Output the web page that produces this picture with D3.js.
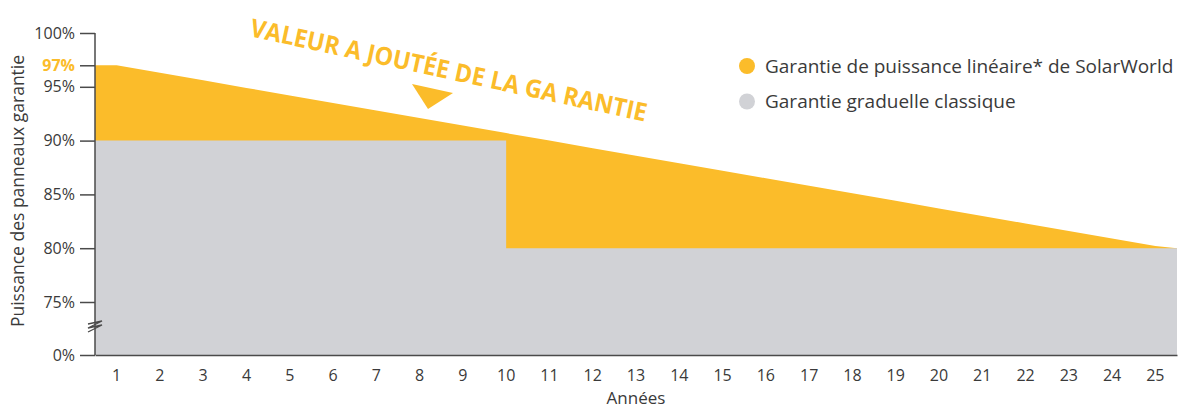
<!DOCTYPE html>
<html>
<head>
<meta charset="utf-8">
<script src="https://cdn.jsdelivr.net/npm/d3@7"></script>
<style>
  body { margin: 0; background: #fff; }
  text { font-family: "Open Sans", sans-serif; fill: #3a3a3a; }
</style>
</head>
<body>
<div id="chart-area"></div>
<script>
const WIDTH = 1179
const HEIGHT = 410
const ORANGE = "#FBBC2A"
const GREY = "#D1D2D6"
const AXIS = "#4a4a4a"

// data
const years = [1, 2, 3, 4, 5, 6, 7, 8, 9, 10, 11, 12, 13, 14, 15, 16, 17, 18, 19, 20, 21, 22, 23, 24, 25]
const linearValues = [97, 96.3, 95.6, 94.9, 94.2, 93.5, 92.8, 92.1, 91.4, 90.7, 90.0, 89.3, 88.6,
  87.9, 87.2, 86.5, 85.8, 85.1, 84.4, 83.7, 83.0, 82.3, 81.6, 80.9, 80.2]
const linearEnd = 80
const classicValues = [90, 90, 90, 90, 90, 90, 90, 90, 90, 80, 80, 80, 80, 80, 80, 80, 80, 80, 80, 80, 80, 80, 80, 80, 80]
const yTicks = [0, 75, 80, 85, 90, 95, 97, 100]
const legendLabels = ["Garantie de puissance linéaire* de SolarWorld", "Garantie graduelle classique"]

const svg = d3.select("#chart-area").append("svg")
  .attr("width", WIDTH)
  .attr("height", HEIGHT)

const x = d3.scaleBand()
  .domain(years)
  .range([95, 1177])

// broken axis: 0 sits just below 75
const y = d3.scaleLinear()
  .domain([0, 75, 100])
  .range([355, 302, 33])

const cx = d => x(d) + x.bandwidth() / 2
const [x0, x1] = x.range()

// linear warranty area
const linearPts = [[x0, linearValues[0]]]
  .concat(years.map((d, i) => [cx(d), linearValues[i]]))
  .concat([[x1, linearEnd]])

const area = d3.area()
  .x(d => d[0])
  .y0(y(0))
  .y1(d => y(d[1]))

svg.append("path")
  .attr("d", area(linearPts))
  .attr("fill", ORANGE)

// classic stepped warranty
const classicPts = [[x0, classicValues[0]]]
  .concat(years.map((d, i) => [cx(d), classicValues[i]]))
  .concat([[x1, classicValues[classicValues.length - 1]]])

svg.append("path")
  .attr("d", area.curve(d3.curveStepAfter)(classicPts))
  .attr("fill", GREY)

// X axis
const xAxis = svg.append("g")
  .attr("transform", `translate(0, ${y(0)})`)
  .call(d3.axisBottom(x).tickSize(0).tickPadding(15))
xAxis.select(".domain").attr("stroke", AXIS).attr("stroke-width", 1.5)
xAxis.selectAll("text")
  .attr("font-size", "16px")
  .attr("font-family", "Open Sans, sans-serif")

// Y axis
const yAxis = svg.append("g")
  .attr("transform", `translate(${x0}, 0)`)
  .call(d3.axisLeft(y).tickValues(yTicks).tickSize(15).tickPadding(5).tickFormat(d => d + "%"))
yAxis.select(".domain").attr("stroke", AXIS).attr("stroke-width", 1.5).attr("d", `M0,${y(100)}V${y(0)}`)
yAxis.selectAll("line").attr("stroke", AXIS).attr("stroke-width", 1.5)
yAxis.selectAll("text")
  .attr("font-size", "16px")
  .attr("font-family", "Open Sans, sans-serif")
yAxis.selectAll(".tick")
  .filter(d => d === 97)
  .select("text")
  .style("fill", ORANGE)
  .attr("font-weight", "bold")

// axis break mark
svg.append("path")
  .attr("d", "M88,324 L102,321 L88,328 L102,325 L88,332")
  .attr("fill", "none")
  .attr("stroke", AXIS)
  .attr("stroke-width", 1.3)

// axis titles
svg.append("text")
  .attr("x", (x0 + x1) / 2)
  .attr("y", 404)
  .attr("text-anchor", "middle")
  .attr("font-size", "17px")
  .text("Années")

svg.append("text")
  .attr("transform", "translate(24, 191) rotate(-90)")
  .attr("text-anchor", "middle")
  .attr("font-size", "17.5px")
  .text("Puissance des panneaux garantie")

// annotation
svg.append("text")
  .attr("transform", "translate(249, 36) rotate(12.2)")
  .attr("font-size", "25px")
  .attr("font-weight", "bold")
  .attr("textLength", 405)
  .attr("lengthAdjust", "spacingAndGlyphs")
  .style("fill", ORANGE)
  .text("VALEUR A JOUTÉE DE LA GA RANTIE")

svg.append("path")
  .attr("d", "M412,84 L453,93 L428,109 Z")
  .attr("fill", ORANGE)

// legend
const legend = svg.append("g")
const legendColors = [ORANGE, GREY]
legendLabels.forEach((label, i) => {
  legend.append("circle")
    .attr("cx", 747)
    .attr("cy", 66 + i * 35.5)
    .attr("r", 8)
    .attr("fill", legendColors[i])
  legend.append("text")
    .attr("x", 765)
    .attr("y", 73 + i * 35)
    .attr("font-size", "19px")
    .text(label)
})
</script>
</body>
</html>
